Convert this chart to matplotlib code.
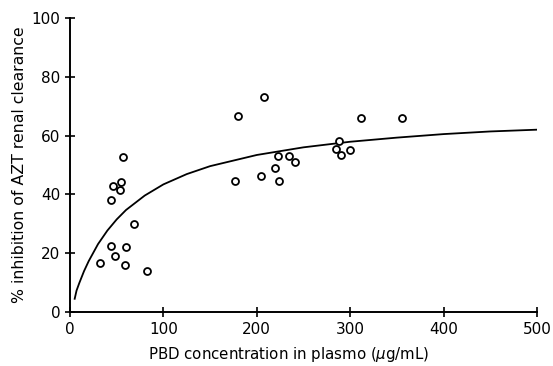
import matplotlib
matplotlib.use('Agg')
import matplotlib.pyplot as plt

# %% Data
conc = [32, 43.5, 44, 46, 48, 53, 55, 57, 59, 60, 68, 82,
        176.5, 180, 204.5, 208, 220, 223, 223.5, 234, 240.5,
        285, 288, 290, 300, 312, 355]
inhib = [16.8, 22.4, 38.2, 43, 19.2, 41.6, 44.1, 52.8, 16.1, 22.1, 30, 14.1,
         44.7, 66.7, 46.2, 73.1, 48.9, 53.1, 44.7, 53.2, 51.1,
         55.3, 58.3, 53.5, 55.2, 66.1, 66.1]

# fitted curve
curve_x = [5, 7, 10, 15, 20, 30, 40, 50, 60, 80, 100, 125, 150, 200,
           250, 300, 350, 400, 450, 500]
curve_y = [4.5, 7.3, 9.9, 13.9, 17.3, 23.1, 27.7, 31.5, 34.7, 39.6, 43.4,
           46.9, 49.6, 53.4, 56.0, 57.9, 59.3, 60.5, 61.4, 62.0]

xticks = [0, 100, 200, 300, 400, 500]
yticks = [0, 20, 40, 60, 80, 100]

# %% Plot
fig = plt.figure(figsize=(5.53, 3.66), dpi=100)
ax = fig.add_axes([0.1266, 0.1475, 0.8444, 0.8035])

ax.plot(curve_x, curve_y, color='black', lw=1.3)
ax.plot(conc, inhib, 'o', mfc='white', mec='black', ms=5, mew=1.3,
        linestyle='none', clip_on=False)

ax.set_xlim(0, 500)
ax.set_ylim(0, 100)
ax.set_xticks(xticks)
ax.set_yticks(yticks)
ax.spines['top'].set_visible(False)
ax.spines['right'].set_visible(False)
ax.spines['left'].set_linewidth(1.4)
ax.spines['bottom'].set_linewidth(1.4)
ax.tick_params(direction='inout', length=7, width=1.2, labelsize=11)

ax.set_xlabel('PBD concentration in plasmo ($\\mu$g/mL)', fontsize=10.8)
ax.xaxis.set_label_coords(0.468, -0.112)
ax.set_ylabel('% inhibition of AZT renal clearance', fontsize=11.3, labelpad=3)

fig.savefig('out.png', dpi=100)
